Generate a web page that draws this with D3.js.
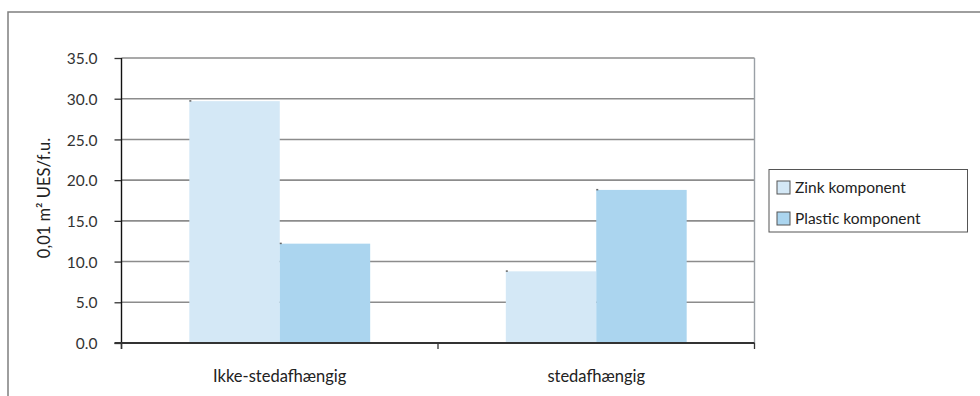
<!DOCTYPE html>
<html>
<head>
<meta charset="utf-8">
<script src="https://cdn.jsdelivr.net/npm/d3@7"></script>
<style>
  html, body { margin: 0; padding: 0; background: #fff; }
  svg { display: block; font-family: Lato, "Noto Sans", sans-serif; }
</style>
</head>
<body>
<svg id="chart" width="980" height="396"></svg>
<script>
// Chart data
const categories = ["Ikke-stedafhængig", "stedafhængig"];
const seriesNames = ["Zink komponent", "Plastic komponent"];
const zinkValues = [29.7, 8.8];
const plasticValues = [12.2, 18.8];
const yTicks = [0, 5, 10, 15, 20, 25, 30, 35];
const yTitle = "0,01 m² UES/f.u.";
const colors = ["#d4e8f6", "#abd5ef"];

const svg = d3.select("#chart");

// Outer frame
svg.append("rect")
  .attr("x", 8).attr("y", 12).attr("width", 1000).attr("height", 420)
  .attr("fill", "none").attr("stroke", "#7f7f7f").attr("stroke-width", 1.5);

const plot = { left: 121.5, right: 754.5, top: 58, bottom: 343 };

const x0 = d3.scaleBand().domain(categories).range([plot.left, plot.right]).padding(0);
// gap between groups is 150% of one bar width
const x1 = d3.scaleBand().domain(seriesNames).range([0, x0.bandwidth()]).paddingInner(0).paddingOuter(0.75);
const y = d3.scaleLinear().domain([0, 35]).range([plot.bottom, plot.top]);

// Gridlines
svg.append("g").selectAll("line").data(yTicks.filter(t => t > 0)).join("line")
  .attr("x1", plot.left).attr("x2", plot.right)
  .attr("y1", d => y(d)).attr("y2", d => y(d))
  .attr("stroke", "#8c8c8c").attr("stroke-width", 1.6);

// Right plot border
svg.append("line")
  .attr("x1", plot.right).attr("x2", plot.right)
  .attr("y1", plot.top).attr("y2", plot.bottom)
  .attr("stroke", "#9aa0a6").attr("stroke-width", 1.4);

// Bars
const rows = categories.map((c, i) => ({ cat: c, vals: [zinkValues[i], plasticValues[i]] }));
const groups = svg.append("g").selectAll("g").data(rows).join("g")
  .attr("transform", d => `translate(${x0(d.cat)},0)`);
const barData = d => d.vals.map((v, j) => ({ name: seriesNames[j], v, j }));
groups.selectAll("rect.bar").data(barData).join("rect")
  .attr("class", "bar")
  .attr("x", d => x1(d.name))
  .attr("width", x1.bandwidth())
  .attr("y", d => y(d.v))
  .attr("height", d => y(0) - y(d.v))
  .attr("fill", d => colors[d.j]);
// small corner marks at bar tops
groups.selectAll("rect.mark").data(barData).join("rect")
  .attr("class", "mark")
  .attr("x", d => x1(d.name))
  .attr("y", d => y(d.v) - 1)
  .attr("width", 2).attr("height", 1.5)
  .attr("fill", "#666");

// Y axis
const yAxis = d3.axisLeft(y).tickValues(yTicks).tickSize(7).tickFormat(d3.format(".1f"));
const gy = svg.append("g").attr("transform", `translate(${plot.left},0)`).call(yAxis)
  .attr("font-family", null).attr("font-size", null);
gy.select(".domain").remove();
gy.selectAll(".tick line").attr("stroke", "#333").attr("stroke-width", 1.3);
gy.selectAll(".tick text").attr("x", -24).attr("dy", "0.36em")
  .attr("font-size", 15.5).attr("fill", "#333");
svg.append("line")
  .attr("x1", plot.left).attr("x2", plot.left)
  .attr("y1", plot.top).attr("y2", plot.bottom + 6)
  .attr("stroke", "#111").attr("stroke-width", 1.4);

// X axis
const gx = svg.append("g").attr("transform", `translate(0,${plot.bottom})`);
gx.append("line").attr("x1", plot.left - 7).attr("x2", plot.right)
  .attr("stroke", "#333").attr("stroke-width", 1.8);
const boundaries = categories.map(c => x0(c)).concat([plot.right]);
gx.selectAll("line.tk").data(boundaries).join("line").attr("class", "tk")
  .attr("x1", d => d).attr("x2", d => d).attr("y1", 0).attr("y2", 6)
  .attr("stroke", "#333").attr("stroke-width", 1.3);
gx.selectAll("text").data(categories).join("text")
  .attr("x", d => x0(d) + x0.bandwidth() / 2).attr("y", 39)
  .attr("text-anchor", "middle").attr("font-size", 16.5).attr("fill", "#222")
  .text(d => d);

// Y axis title
svg.append("text")
  .attr("transform", "translate(50,198) rotate(-90)")
  .attr("text-anchor", "middle").attr("font-size", 16.5).attr("fill", "#222")
  .text(yTitle);

// Legend
const lg = svg.append("g");
lg.append("rect").attr("x", 769).attr("y", 169.5).attr("width", 198.5).attr("height", 62.5)
  .attr("fill", "#fff").attr("stroke", "#555").attr("stroke-width", 1);
const items = lg.selectAll("g.item").data(seriesNames).join("g").attr("class", "item")
  .attr("transform", (d, i) => `translate(777,${181 + i * 31})`);
items.append("rect").attr("width", 13).attr("height", 13)
  .attr("fill", (d, i) => colors[i]).attr("stroke", "#555").attr("stroke-width", 1);
items.append("text").attr("x", 18).attr("y", 12)
  .attr("font-size", 15.5).attr("fill", "#222").text(d => d);
</script>
</body>
</html>
